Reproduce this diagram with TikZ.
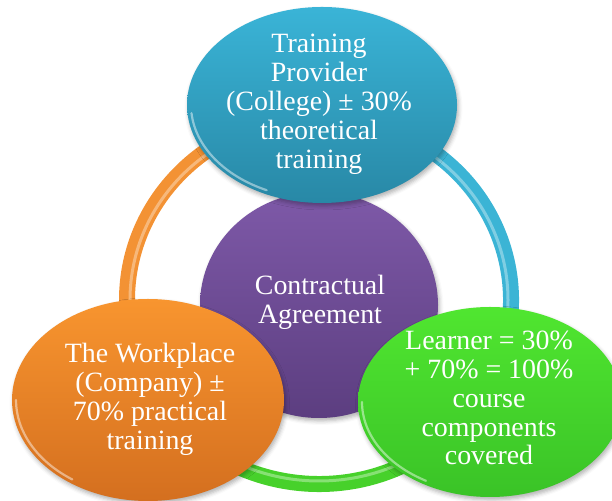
\documentclass[tikz,border=0pt]{standalone}
\usepackage{fontspec}
\setmainfont{Liberation Serif}
\usetikzlibrary{shapes.geometric,shadows.blur}

\definecolor{blueTop}{HTML}{3AB4D7}
\definecolor{blueBot}{HTML}{2888A6}
\definecolor{purpleTop}{HTML}{7E59A8}
\definecolor{purpleBot}{HTML}{5C3E80}
\definecolor{orangeTop}{HTML}{F8952F}
\definecolor{orangeBot}{HTML}{D46F1F}
\definecolor{greenTop}{HTML}{50E630}
\definecolor{greenBot}{HTML}{3AC327}
\definecolor{ringOrange}{HTML}{F39234}
\definecolor{ringBlue}{HTML}{3BB4D5}
\definecolor{ringGreen}{HTML}{47D12B}

\tikzset{
  bubble/.style={ellipse, draw=none, inner sep=0pt, outer sep=0pt,
    blur shadow={shadow xshift=1.5bp, shadow yshift=-3bp,
      shadow blur radius=4bp, shadow opacity=30}},
  caption/.style={text=white, align=center, inner sep=0pt,
    font=\fontsize{28}{29}\selectfont},
  band/.style={line width=16bp, line cap=butt},
  gloss/.style={line width=3bp, white, opacity=0.35},
  rim/.style={line width=2.2bp, white, opacity=0.45, line cap=round},
}

\begin{document}
\begin{tikzpicture}[x=1bp,y=1bp]
\useasboundingbox (0,0) rectangle (612,501);

% ring behind the bubbles
\coordinate (ringc) at (319,201);
\draw[band, ringOrange] ([shift={(ringc)}]90:192 and 184)
  arc[start angle=90, end angle=211, x radius=192, y radius=184];
\draw[band, ringGreen] ([shift={(ringc)}]211:192 and 184)
  arc[start angle=211, end angle=330, x radius=192, y radius=184];
\draw[band, ringBlue] ([shift={(ringc)}]330:192 and 184)
  arc[start angle=330, end angle=450, x radius=192, y radius=184];
\draw[gloss] (ringc) ellipse[x radius=189, y radius=181];

% centre bubble
\node[bubble, minimum width=238bp, minimum height=226bp,
  top color=purpleTop, bottom color=purpleBot] (agree) at (319,196) {};
\draw[rim] ([shift={(agree.center)}]195:115 and 109)
  arc[start angle=195, end angle=250, x radius=115, y radius=109];
\node[caption] (agreeT) at (320,199) {Contractual\\Agreement};

% training provider
\node[bubble, minimum width=270bp, minimum height=196bp,
  top color=blueTop, bottom color=blueBot] (prov) at (322,396) {};
\draw[rim] ([shift={(prov.center)}]185:131 and 94)
  arc[start angle=185, end angle=245, x radius=131, y radius=94];
\node[caption] (provT) at (319,397)
  {Training\\Provider\\(College) ± 30\%\\theoretical\\training};

% workplace
\node[bubble, minimum width=272bp, minimum height=202bp,
  top color=orangeTop, bottom color=orangeBot] (work) at (148,101) {};
\draw[rim] ([shift={(work.center)}]180:132 and 97)
  arc[start angle=180, end angle=235, x radius=132, y radius=97];
\node[caption] (workT) at (150,102)
  {The Workplace\\(Company) ±\\70\% practical\\training};

% learner
\node[bubble, minimum width=264bp, minimum height=190bp,
  top color=greenTop, bottom color=greenBot] (learn) at (490,99) {};
\draw[rim] ([shift={(learn.center)}]180:128 and 91)
  arc[start angle=180, end angle=240, x radius=128, y radius=91];
\node[caption] (learnT) at (489,103)
  {Learner = 30\%\\+ 70\% = 100\%\\course\\components\\covered};
\end{tikzpicture}
\end{document}
